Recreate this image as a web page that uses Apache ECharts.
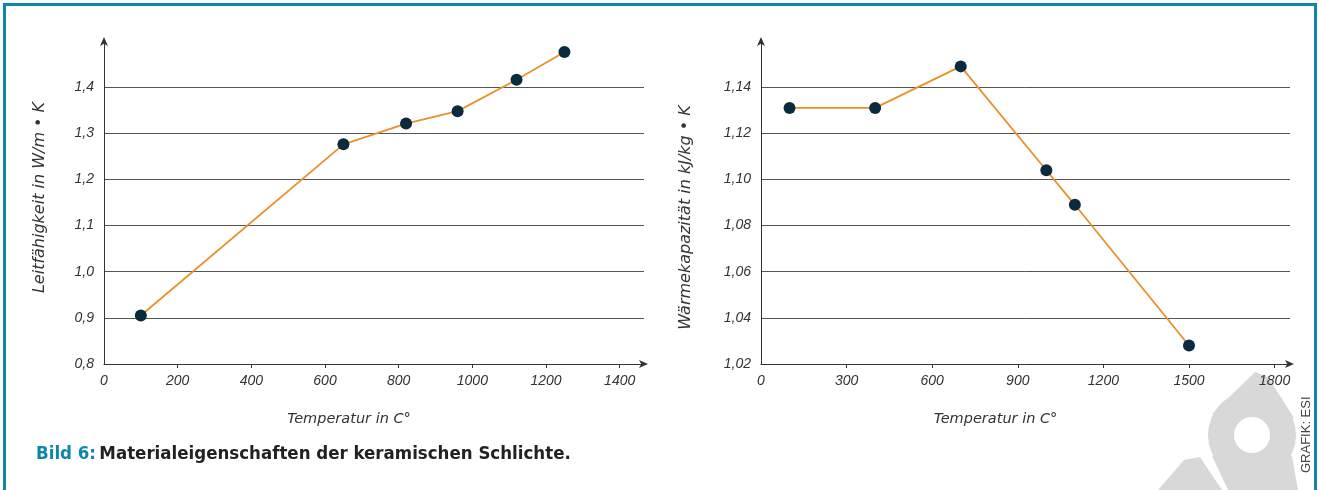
<!DOCTYPE html>
<html>
<head>
<meta charset="utf-8">
<script src="https://cdn.jsdelivr.net/npm/echarts@6/dist/echarts.min.js"></script>
<style>
  html, body { margin: 0; padding: 0; background: #ffffff; }
  #chart { width: 1319px; height: 490px; }
</style>
</head>
<body>
<div id="chart"></div>
<script>
// Leitfähigkeit (links)
const leitTemp = [100, 650, 820, 960, 1120, 1250];
const leitWert = [0.905, 1.276, 1.321, 1.348, 1.416, 1.476];
const leitTicksX = [0, 200, 400, 600, 800, 1000, 1200, 1400];

// Wärmekapazität (rechts)
const waermeTemp = [100, 400, 700, 1000, 1100, 1500];
const waermeWert = [1.131, 1.131, 1.149, 1.104, 1.089, 1.028];
const waermeTicksX = [0, 300, 600, 900, 1200, 1500, 1800];

const captionLead = 'Bild 6:';
const captionText = 'Materialeigenschaften der keramischen Schlichte.';
const xName = 'Temperatur in C°';
const leitName = 'Leitfähigkeit in W/m • K';
const waermeName = 'Wärmekapazität in kJ/kg • K';
const credit = 'GRAFIK: ESI';

const TEAL = '#0e86aa';
const ORANGE = '#e8912a';
const NAVY = '#0b2a3e';
const INK = '#333333';
const FONT = '"Liberation Sans", Arial, sans-serif';
const NAME_FONT = '"DejaVu Sans", sans-serif';
const CAPTION_FONT = '"DejaVu Sans Condensed", "Liberation Sans Narrow", sans-serif';

const pairs = (xs, ys) => xs.map((x, i) => [x, ys[i]]);
const comma = (v, d) => v.toFixed(d).replace('.', ',');

function xAxisCfg(gridIndex, max, interval, ticks, padRight) {
  return {
    type: 'value', gridIndex, min: 0, max, interval,
    name: xName, nameLocation: 'middle', nameGap: 48,
    nameTextStyle: { fontStyle: 'italic', fontSize: 14.5, color: INK, fontFamily: NAME_FONT, padding: [0, padRight, 0, 0] },
    axisLine: { show: true, symbol: ['none', 'arrow'], symbolSize: [6, 9], symbolOffset: [0, 4],
                lineStyle: { color: INK, width: 1 } },
    axisTick: { show: true, customValues: ticks.slice(1), length: 4, inside: false,
                lineStyle: { color: INK, width: 1 } },
    axisLabel: { customValues: ticks, fontStyle: 'italic', fontSize: 14, color: INK,
                 fontFamily: FONT, margin: 10, formatter: v => String(v) },
    splitLine: { show: false }
  };
}

function yAxisCfg(gridIndex, min, max, interval, digits, name, gap, namePad) {
  return {
    type: 'value', gridIndex, min, max, interval,
    name, nameLocation: 'middle', nameGap: gap, nameRotate: 90,
    nameTextStyle: { fontStyle: 'italic', fontSize: 16, color: INK, fontFamily: NAME_FONT, padding: namePad },
    axisLine: { show: true, symbol: ['none', 'arrow'], symbolSize: [6, 9], symbolOffset: [0, 4],
                lineStyle: { color: INK, width: 1 } },
    axisTick: { show: false },
    axisLabel: { fontStyle: 'italic', fontSize: 14, color: INK, fontFamily: FONT, margin: 10,
                 showMaxLabel: false, formatter: v => comma(v, digits) },
    splitLine: { show: true, showMinLine: false, showMaxLine: false,
                 lineStyle: { color: '#555555', width: 1 } }
  };
}

function lineSeries(idx, xs, ys) {
  return {
    type: 'line', xAxisIndex: idx, yAxisIndex: idx,
    data: pairs(xs, ys),
    symbol: 'circle', symbolSize: 12, showAllSymbol: true,
    lineStyle: { color: ORANGE, width: 1.8 },
    itemStyle: { color: NAVY, borderWidth: 0 },
    emphasis: { disabled: true },
    animation: false
  };
}

const watermarkFill = '#d8d8d8';

const chart = echarts.init(document.getElementById('chart'), null, { renderer: 'canvas' });
chart.setOption({
  backgroundColor: '#ffffff',
  animation: false,
  grid: [
    { left: 104, top: 41, width: 540, height: 323, containLabel: false },
    { left: 761, top: 41, width: 529, height: 323, containLabel: false }
  ],
  xAxis: [
    xAxisCfg(0, 1466, 200, leitTicksX, 50),
    xAxisCfg(1, 1854, 300, waermeTicksX, 60)
  ],
  yAxis: [
    yAxisCfg(0, 0.8, 1.5, 0.1, 1, leitName, 56, [0, 0, 0, 10]),
    yAxisCfg(1, 1.02, 1.16, 0.02, 2, waermeName, 67, [0, 30, 0, 0])
  ],
  series: [
    lineSeries(0, leitTemp, leitWert),
    lineSeries(1, waermeTemp, waermeWert)
  ],
  graphic: [
    // Logo-Wasserzeichen unten rechts
    { type: 'ring', z: -10, silent: true, shape: { cx: 1252, cy: 435, r: 44, r0: 18 }, style: { fill: watermarkFill } },
    { type: 'polygon', z: -10, silent: true,
      shape: { points: [[1255, 372], [1268, 377], [1294, 418], [1212, 414]] }, style: { fill: watermarkFill } },
    { type: 'polygon', z: -10, silent: true,
      shape: { points: [[1212, 456], [1292, 456], [1298, 490], [1228, 490]] }, style: { fill: watermarkFill } },
    { type: 'polygon', z: -10, silent: true,
      shape: { points: [[1158, 490], [1184, 460], [1200, 457], [1222, 490]] }, style: { fill: watermarkFill } },
    // Rahmen
    { type: 'rect', z: 20, silent: true,
      shape: { x: 4.5, y: 4.5, width: 1311, height: 500 },
      style: { fill: 'none', stroke: TEAL, lineWidth: 3 } },
    // Bildunterschrift
    { type: 'text', z: 20, left: 36, top: 445,
      style: {
        text: '{a|' + captionLead + '} {b|' + captionText + '}',
        rich: {
          a: { fill: TEAL, fontSize: 18.5, fontWeight: 'bold', fontFamily: CAPTION_FONT },
          b: { fill: '#222222', fontSize: 18.5, fontWeight: 'bold', fontFamily: CAPTION_FONT }
        }
      } },
    // Quellenangabe
    { type: 'text', z: 20, rotation: Math.PI / 2, x: 1300, y: 473,
      style: { text: credit, fill: '#444444', fontSize: 13, fontFamily: FONT,
               textAlign: 'left', textVerticalAlign: 'top' } }
  ]
});
</script>
</body>
</html>
